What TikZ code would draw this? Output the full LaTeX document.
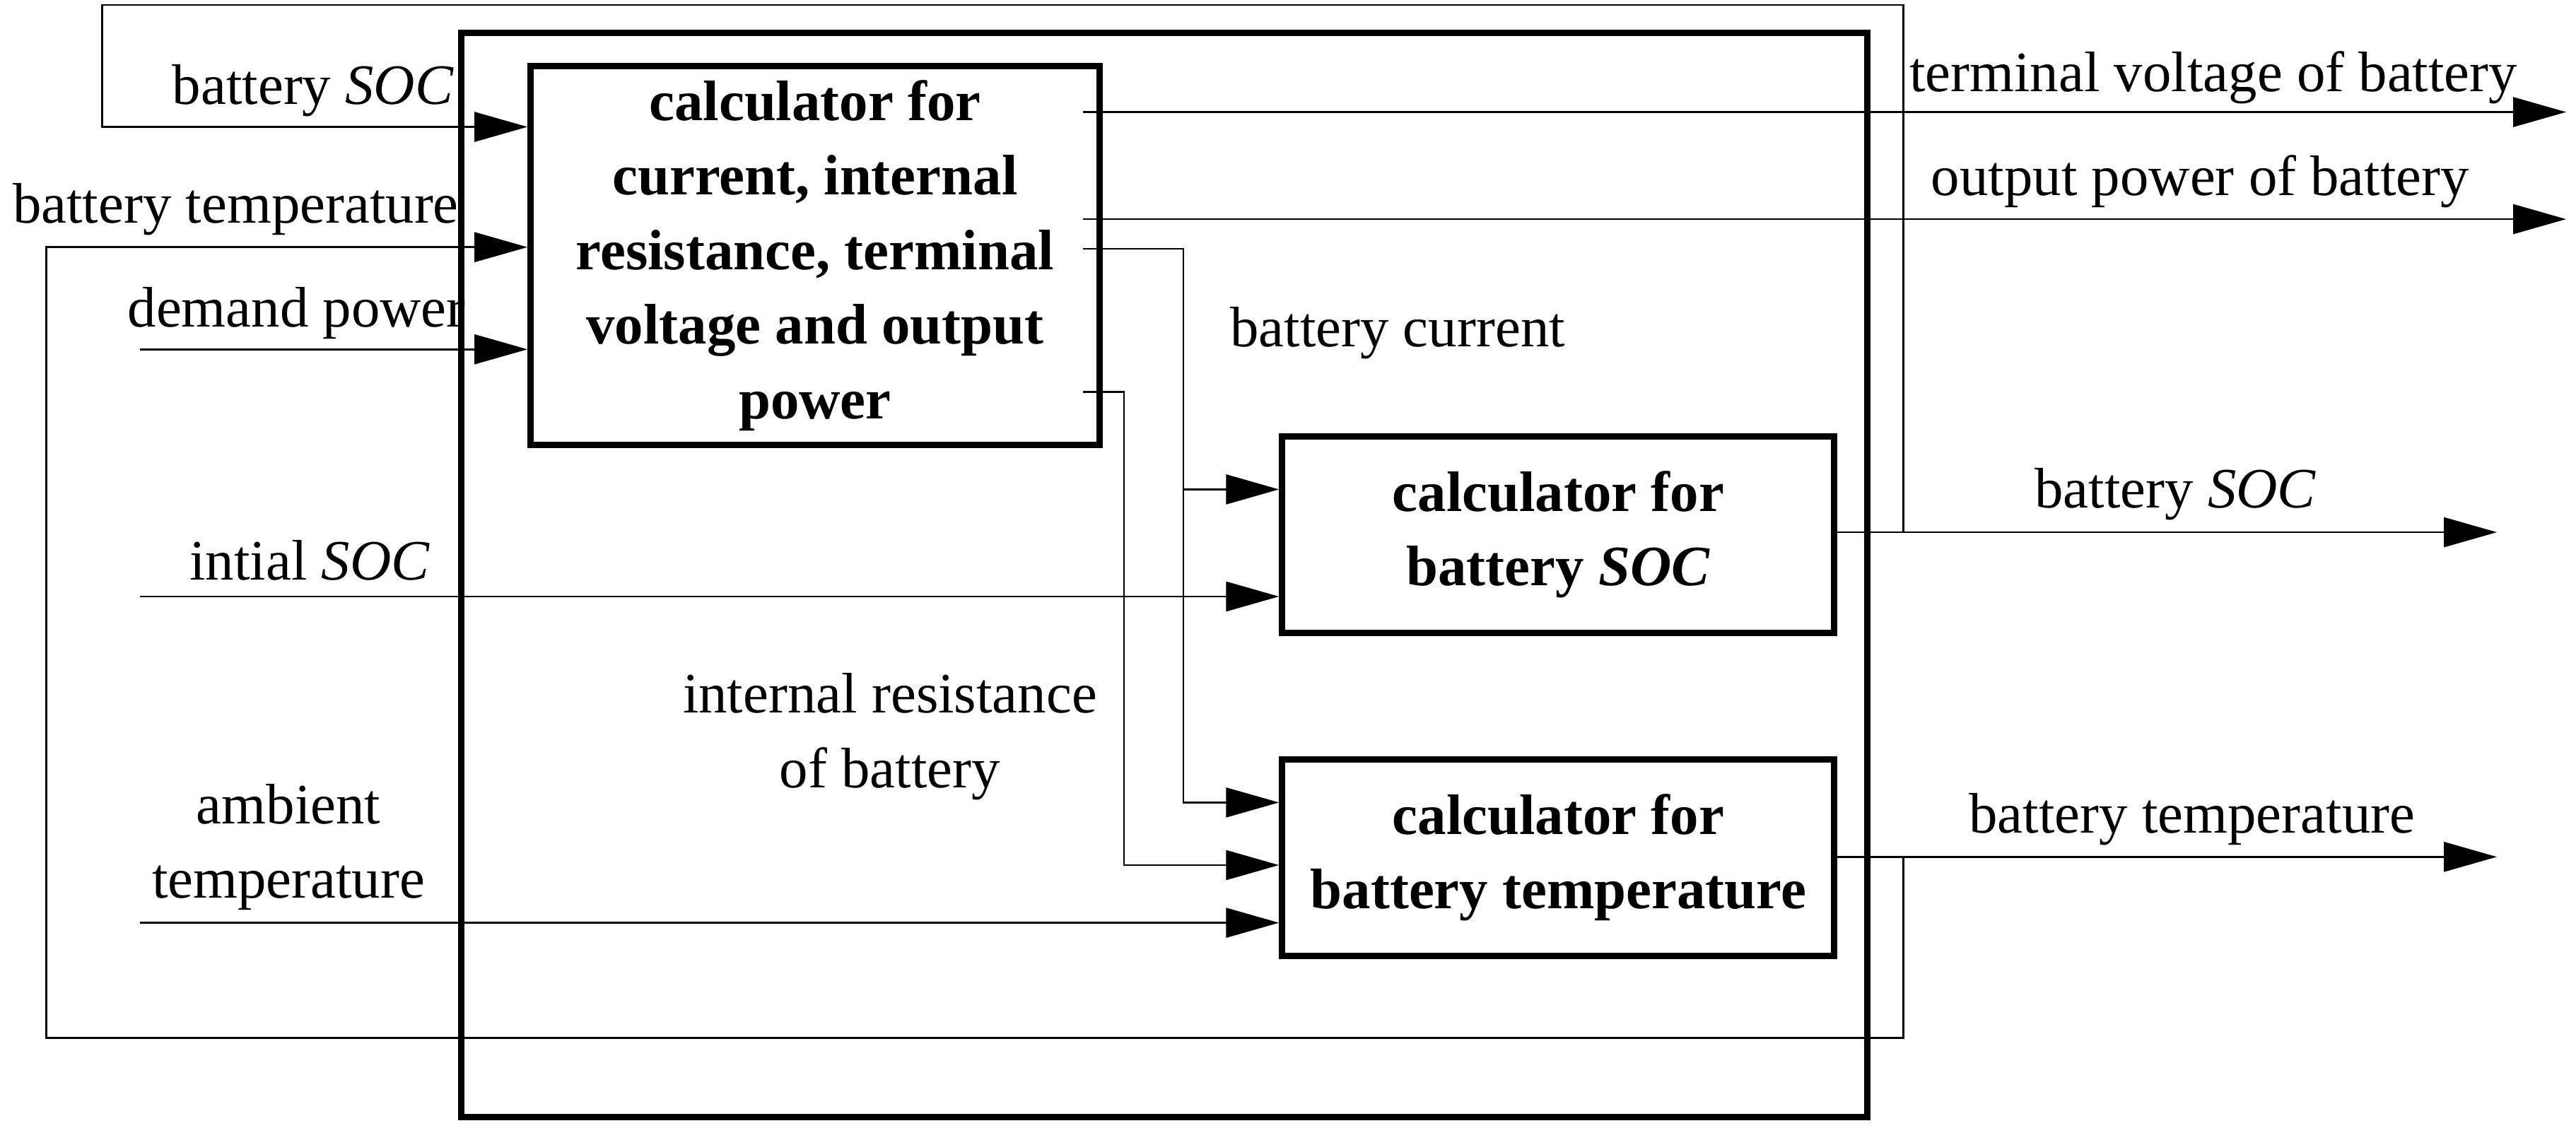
\documentclass[tikz,border=0pt]{standalone}
\usepackage{fontspec}
\setmainfont{Liberation Serif}
\usetikzlibrary{arrows.meta}
\begin{document}
\begin{tikzpicture}[x=0.02331cm,y=-0.02331cm,
  ln/.style={line width=0.8pt},
  ar/.style={ln,-{Triangle[length=0.75cm,width=0.42cm]}},
  box/.style={draw,line width=2.6pt,inner sep=0pt,align=center,font=\fontsize{23}{30}\selectfont\bfseries},
  lab/.style={font=\fontsize{23}{30}\selectfont,align=center,inner sep=0pt}]
\useasboundingbox (0,0) rectangle (1563,694.5);
\draw[line width=2.6pt] (280,20) rectangle (1133,678);
\node[box,minimum width=345*0.02331cm,minimum height=230*0.02331cm] (A) at (494.5,155) {calculator for\\current, internal\\resistance, terminal\\voltage and output\\power};
\node[box,minimum width=335*0.02331cm,minimum height=119*0.02331cm] (B) at (945.5,324.5) {calculator for\\battery \textit{SOC}};
\node[box,minimum width=335*0.02331cm,minimum height=119*0.02331cm] (C) at (945.5,520.5) {calculator for\\battery temperature};
% coordinates
\coordinate (jS) at (1155,323);
\coordinate (jT) at (1155,520);
\coordinate (inD) at (85,212);
\coordinate (inI) at (85,362);
\coordinate (inA) at (85,560);
\coordinate (oV) at (1557,68);
\coordinate (oP) at (1557,133);
\coordinate (oS) at (1515,323);
\coordinate (oT) at (1515,520);
% feedback
\draw[ar] (jS) -- (1155,3) -- (62,3) -- (62,77) -- (A.west|-0,77);
\draw[ar] (jT) -- (1155,630) -- (28,630) -- (28,150) -- (A.west|-0,150);
\draw[ar] (inD) -- (A.west|-inD);
\draw[ar] (inI) -- (B.west|-inI);
\draw[ar] (inA) -- (C.west|-inA);
\draw[ar] (657,68) -- (oV);
\draw[ar] (657,133) -- (oP);
\draw[ar] (657,151) -- (718,151) -- (718,297) -- (B.west|-0,297);
\draw[ar] (718,297) -- (718,487) -- (C.west|-0,487);
\draw[ar] (657,238) -- (682,238) -- (682,525) -- (C.west|-0,525);
\draw[ar] (B.east|-oS) -- (oS);
\draw[ar] (C.east|-oT) -- (oT);
% labels
\node[lab] (l1) at (190,55) {battery \textit{SOC}};
\node[lab] (l2) at (143,127) {battery temperature};
\node[lab] (l3) at (180,190) {demand power};
\node[lab] (l4) at (188,340) {intial \textit{SOC}};
\node[lab] (l5) at (175,514) {ambient\\temperature};
\node[lab] (l6) at (1343,47) {terminal voltage of battery};
\node[lab] (l7) at (1335,110) {output power of battery};
\node[lab] (l8) at (848,202) {battery current};
\node[lab] (l9) at (540,447) {internal resistance\\of battery};
\node[lab] (l10) at (1320,300) {battery \textit{SOC}};
\node[lab] (l11) at (1330,497) {battery temperature};
\end{tikzpicture}
\end{document}
